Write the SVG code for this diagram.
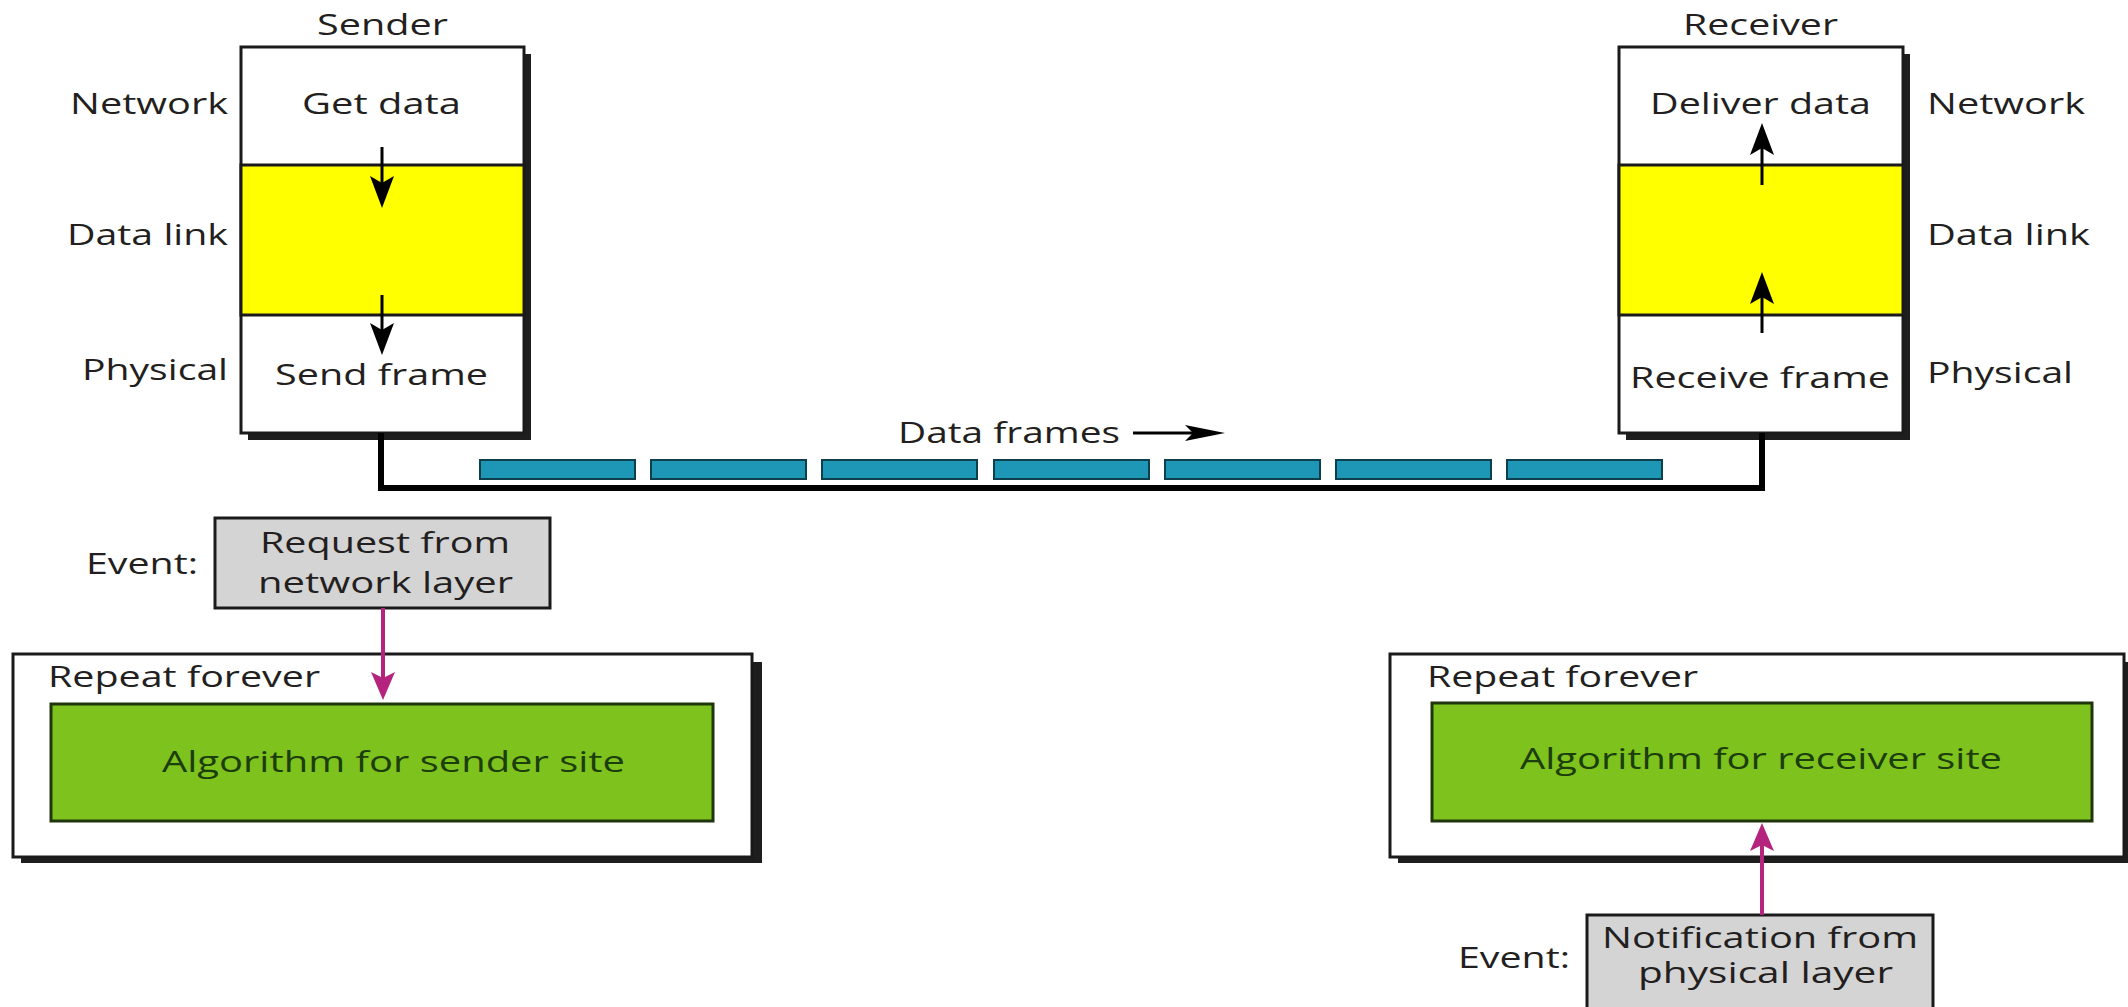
<svg xmlns="http://www.w3.org/2000/svg" width="2128" height="1007" viewBox="0 0 2128 1007">
  <style>
    .t { font-family: "Open Sans", "Noto Sans", "Liberation Sans", sans-serif; font-size: 29px; fill: #231f20; }
    .alg { fill: #1c3d0c; }
    .box { fill: #ffffff; stroke: #1a1a1a; stroke-width: 3; }
    .shadow { fill: #1e1e1e; }
    .yellow { fill: #ffff00; stroke: #1a1a1a; stroke-width: 3; }
    .green { fill: #7ec21e; stroke: #1f360c; stroke-width: 3; }
    .gray { fill: #d4d4d4; stroke: #1a1a1a; stroke-width: 3; }
    .frame { fill: #1e96b5; stroke: #0d3f4d; stroke-width: 2; }
    .bus { fill: none; stroke: #000; stroke-width: 6; }
    .blk { stroke: #000; stroke-width: 3; fill: none; }
    .mag { stroke: #b5247c; stroke-width: 4; fill: none; }
  </style>
  <defs>
    <marker id="ah" markerUnits="userSpaceOnUse" markerWidth="32" markerHeight="24" viewBox="0 0 32 24" refX="22" refY="12" orient="auto">
      <path d="M0,0 L32,12 L0,24 L7,12 z" fill="#000"/>
    </marker>
    <marker id="mh" markerUnits="userSpaceOnUse" markerWidth="28" markerHeight="24" viewBox="0 0 28 24" refX="18" refY="12" orient="auto">
      <path d="M0,0 L28,12 L0,24 L6,12 z" fill="#b5247c"/>
    </marker>
    <marker id="dh" markerUnits="userSpaceOnUse" markerWidth="40" markerHeight="16" viewBox="0 0 40 16" refX="30" refY="8" orient="auto">
      <path d="M0,0 L40,8 L0,16 L8,8 z" fill="#000"/>
    </marker>
  </defs>

  <rect width="2128" height="1007" fill="#ffffff"/>

  <!-- Sender stack -->
  <g id="sender">
    <rect class="shadow" x="248" y="54" width="283" height="386"/>
    <rect class="box" x="241" y="47" width="283" height="386"/>
    <rect class="yellow" x="241" y="165" width="283" height="150"/>
    <text class="t" x="317" y="35" textLength="131" lengthAdjust="spacingAndGlyphs">Sender</text>
    <text class="t" x="302" y="114" textLength="159" lengthAdjust="spacingAndGlyphs">Get data</text>
    <text class="t" x="275" y="385" textLength="213" lengthAdjust="spacingAndGlyphs">Send frame</text>
    <text class="t" x="70" y="114" textLength="158" lengthAdjust="spacingAndGlyphs">Network</text>
    <text class="t" x="67" y="245" textLength="161" lengthAdjust="spacingAndGlyphs">Data link</text>
    <text class="t" x="82" y="380" textLength="146" lengthAdjust="spacingAndGlyphs">Physical</text>
  </g>

  <!-- Receiver stack -->
  <g id="receiver">
    <rect class="shadow" x="1626" y="54" width="284" height="386"/>
    <rect class="box" x="1619" y="47" width="284" height="386"/>
    <rect class="yellow" x="1619" y="165" width="284" height="150"/>
    <text class="t" x="1683" y="35" textLength="155" lengthAdjust="spacingAndGlyphs">Receiver</text>
    <text class="t" x="1650" y="114" textLength="221" lengthAdjust="spacingAndGlyphs">Deliver data</text>
    <text class="t" x="1630" y="388" textLength="260" lengthAdjust="spacingAndGlyphs">Receive frame</text>
    <text class="t" x="1927" y="114" textLength="158" lengthAdjust="spacingAndGlyphs">Network</text>
    <text class="t" x="1927" y="245" textLength="163" lengthAdjust="spacingAndGlyphs">Data link</text>
    <text class="t" x="1927" y="383" textLength="146" lengthAdjust="spacingAndGlyphs">Physical</text>
  </g>

  <!-- Data frames -->
  <g id="data-frames">
    <rect class="frame" x="480" y="460" width="155" height="19"/>
    <rect class="frame" x="651" y="460" width="155" height="19"/>
    <rect class="frame" x="822" y="460" width="155" height="19"/>
    <rect class="frame" x="994" y="460" width="155" height="19"/>
    <rect class="frame" x="1165" y="460" width="155" height="19"/>
    <rect class="frame" x="1336" y="460" width="155" height="19"/>
    <rect class="frame" x="1507" y="460" width="155" height="19"/>
    <text class="t" x="898" y="443" textLength="222" lengthAdjust="spacingAndGlyphs">Data frames</text>
  </g>

  <!-- Sender event -->
  <g id="sender-event">
    <text class="t" x="86" y="574" textLength="112" lengthAdjust="spacingAndGlyphs">Event:</text>
    <rect class="gray" x="215" y="518" width="335" height="90"/>
    <text class="t" x="260" y="553" textLength="250" lengthAdjust="spacingAndGlyphs">Request from</text>
    <text class="t" x="258" y="593" textLength="255" lengthAdjust="spacingAndGlyphs">network layer</text>
  </g>

  <!-- Sender loop -->
  <g id="sender-loop">
    <rect class="shadow" x="21" y="662" width="741" height="201"/>
    <rect class="box" x="13" y="654" width="739" height="203"/>
    <text class="t" x="48" y="687" textLength="272" lengthAdjust="spacingAndGlyphs">Repeat forever</text>
    <rect class="green" x="51" y="704" width="662" height="117"/>
    <text class="t alg" x="162" y="772" textLength="463" lengthAdjust="spacingAndGlyphs">Algorithm for sender site</text>
  </g>

  <!-- Receiver loop -->
  <g id="receiver-loop">
    <rect class="shadow" x="1398" y="662" width="740" height="201"/>
    <rect class="box" x="1390" y="654" width="734" height="203"/>
    <text class="t" x="1427" y="687" textLength="271" lengthAdjust="spacingAndGlyphs">Repeat forever</text>
    <rect class="green" x="1432" y="703" width="660" height="118"/>
    <text class="t alg" x="1520" y="769" textLength="482" lengthAdjust="spacingAndGlyphs">Algorithm for receiver site</text>
  </g>

  <!-- Receiver event -->
  <g id="receiver-event">
    <text class="t" x="1458" y="968" textLength="112" lengthAdjust="spacingAndGlyphs">Event:</text>
    <rect class="gray" x="1587" y="915" width="346" height="100"/>
    <text class="t" x="1602" y="948" textLength="316" lengthAdjust="spacingAndGlyphs">Notification from</text>
    <text class="t" x="1638" y="983" textLength="255" lengthAdjust="spacingAndGlyphs">physical layer</text>
  </g>

  <!-- Connectors -->
  <g id="connectors">
    <path class="bus" d="M381,433 V488 H1762 V433"/>
    <line class="blk" x1="382" y1="147" x2="382" y2="198" marker-end="url(#ah)"/>
    <line class="blk" x1="382" y1="295" x2="382" y2="345" marker-end="url(#ah)"/>
    <line class="blk" x1="1762" y1="185" x2="1762" y2="133" marker-end="url(#ah)"/>
    <line class="blk" x1="1762" y1="333" x2="1762" y2="282" marker-end="url(#ah)"/>
    <line class="blk" x1="1133" y1="433" x2="1215" y2="433" marker-end="url(#dh)"/>
    <line class="mag" x1="383" y1="608" x2="383" y2="690" marker-end="url(#mh)"/>
    <line class="mag" x1="1762" y1="915" x2="1762" y2="833" marker-end="url(#mh)"/>
  </g>
</svg>
